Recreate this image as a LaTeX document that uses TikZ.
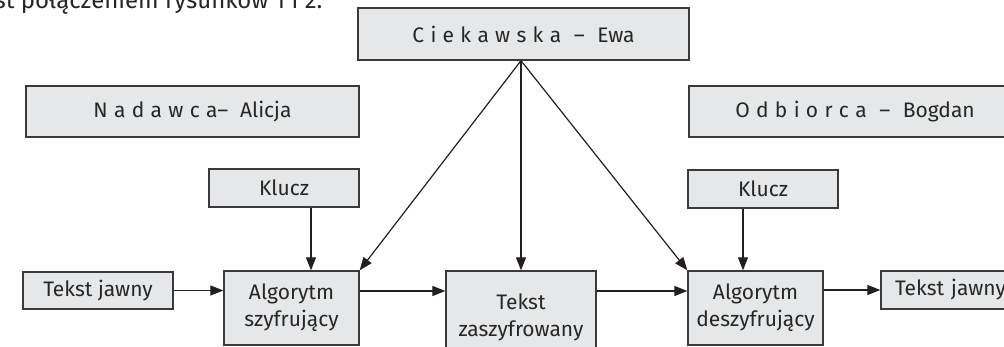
\documentclass[tikz,border=0pt]{standalone}
\usepackage{fontspec}
\setmainfont{Fira Sans}
\usetikzlibrary{arrows.meta,calc}
\newcommand\ls{\hspace{0.3em}}
\definecolor{boxfill}{HTML}{E6E7E8}
\definecolor{boxline}{HTML}{3A3A3C}
\definecolor{arrline}{HTML}{231F20}
\begin{document}
\begin{tikzpicture}[x=1pt,y=-1pt,
  box/.style={draw=boxline,fill=boxfill,line width=1.3pt,inner sep=0pt,
    align=center,font=\fontsize{21}{27}\selectfont,text=black!85},
  arr/.style={draw=arrline,line width=1.2pt,-{Triangle[length=13pt,width=10pt]}}]
\useasboundingbox (0,0) rectangle (1004,347);
\clip (0,0) rectangle (1004,347);
\node[anchor=base east,font=\fontsize{24}{28}\selectfont,text=black!85] (cap) at (326,8.5) {jest połączeniem rysunków 1 i 2.};
% persons
\node[box,minimum width=333pt,minimum height=51pt] (alicja) at (192.5,111.5) {N\ls a\ls d\ls a\ls w\ls c\ls a– \ls Alicja};
\node[box,minimum width=331pt,minimum height=52pt] (ewa) at (523.5,34) {C\ls i\ls e\ls k\ls a\ls w\ls s\ls k\ls a\ls\ls –\ls\ls Ewa};
\node[box,minimum width=332pt,minimum height=51pt] (bogdan) at (855,111.5) {O\ls d\ls b\ls i\ls o\ls r\ls c\ls a\ls\ls –\ls\ls Bogdan};
% keys
\node[box,minimum width=150pt,minimum height=38pt] (k1) at (284,188) {Klucz};
\node[box,minimum width=150pt,minimum height=38pt] (k2) at (763,189) {Klucz};
% bottom row
\node[box,minimum width=150pt,minimum height=37pt] (tj1) at (98,290.5) {Tekst jawny};
\node[box,minimum width=135pt,minimum height=74pt] (as) at (291.5,308) {Algorytm\\szyfrujący};
\node[box,minimum width=150pt,minimum height=92pt] (tz) at (521,317) {Tekst\\zaszyfrowany};
\node[box,minimum width=135pt,minimum height=74pt] (ad) at (755.5,308) {Algorytm\\deszyfrujący};
\node[box,minimum width=150pt,minimum height=38pt,text width=150pt,align=left] (tj2) at (956,290) {\hspace*{14pt}Tekst jawny};
% connectors
\coordinate (apex) at (ewa.south -| tz.north);
\coordinate (h) at (0,291);
\draw[arr] (apex) -- (as.north east);
\draw[arr] (apex) -- (tz.north);
\draw[arr] (apex) -- (ad.north west);
\draw[arr] ([xshift=27pt]k1.south) -- ([xshift=19.5pt]as.north);
\draw[arr] ([xshift=-20pt]k2.south) -- ([xshift=-12.5pt]ad.north);
\draw[arr] (tj1.east) -- (as.west |- tj1.east);
\draw[arr] (as.east |- h) -- (tz.west |- h);
\draw[arr] (tz.east |- h) -- (ad.west |- h);
\draw[arr] (ad.east |- tj2.west) -- (tj2.west);
\end{tikzpicture}
\end{document}
